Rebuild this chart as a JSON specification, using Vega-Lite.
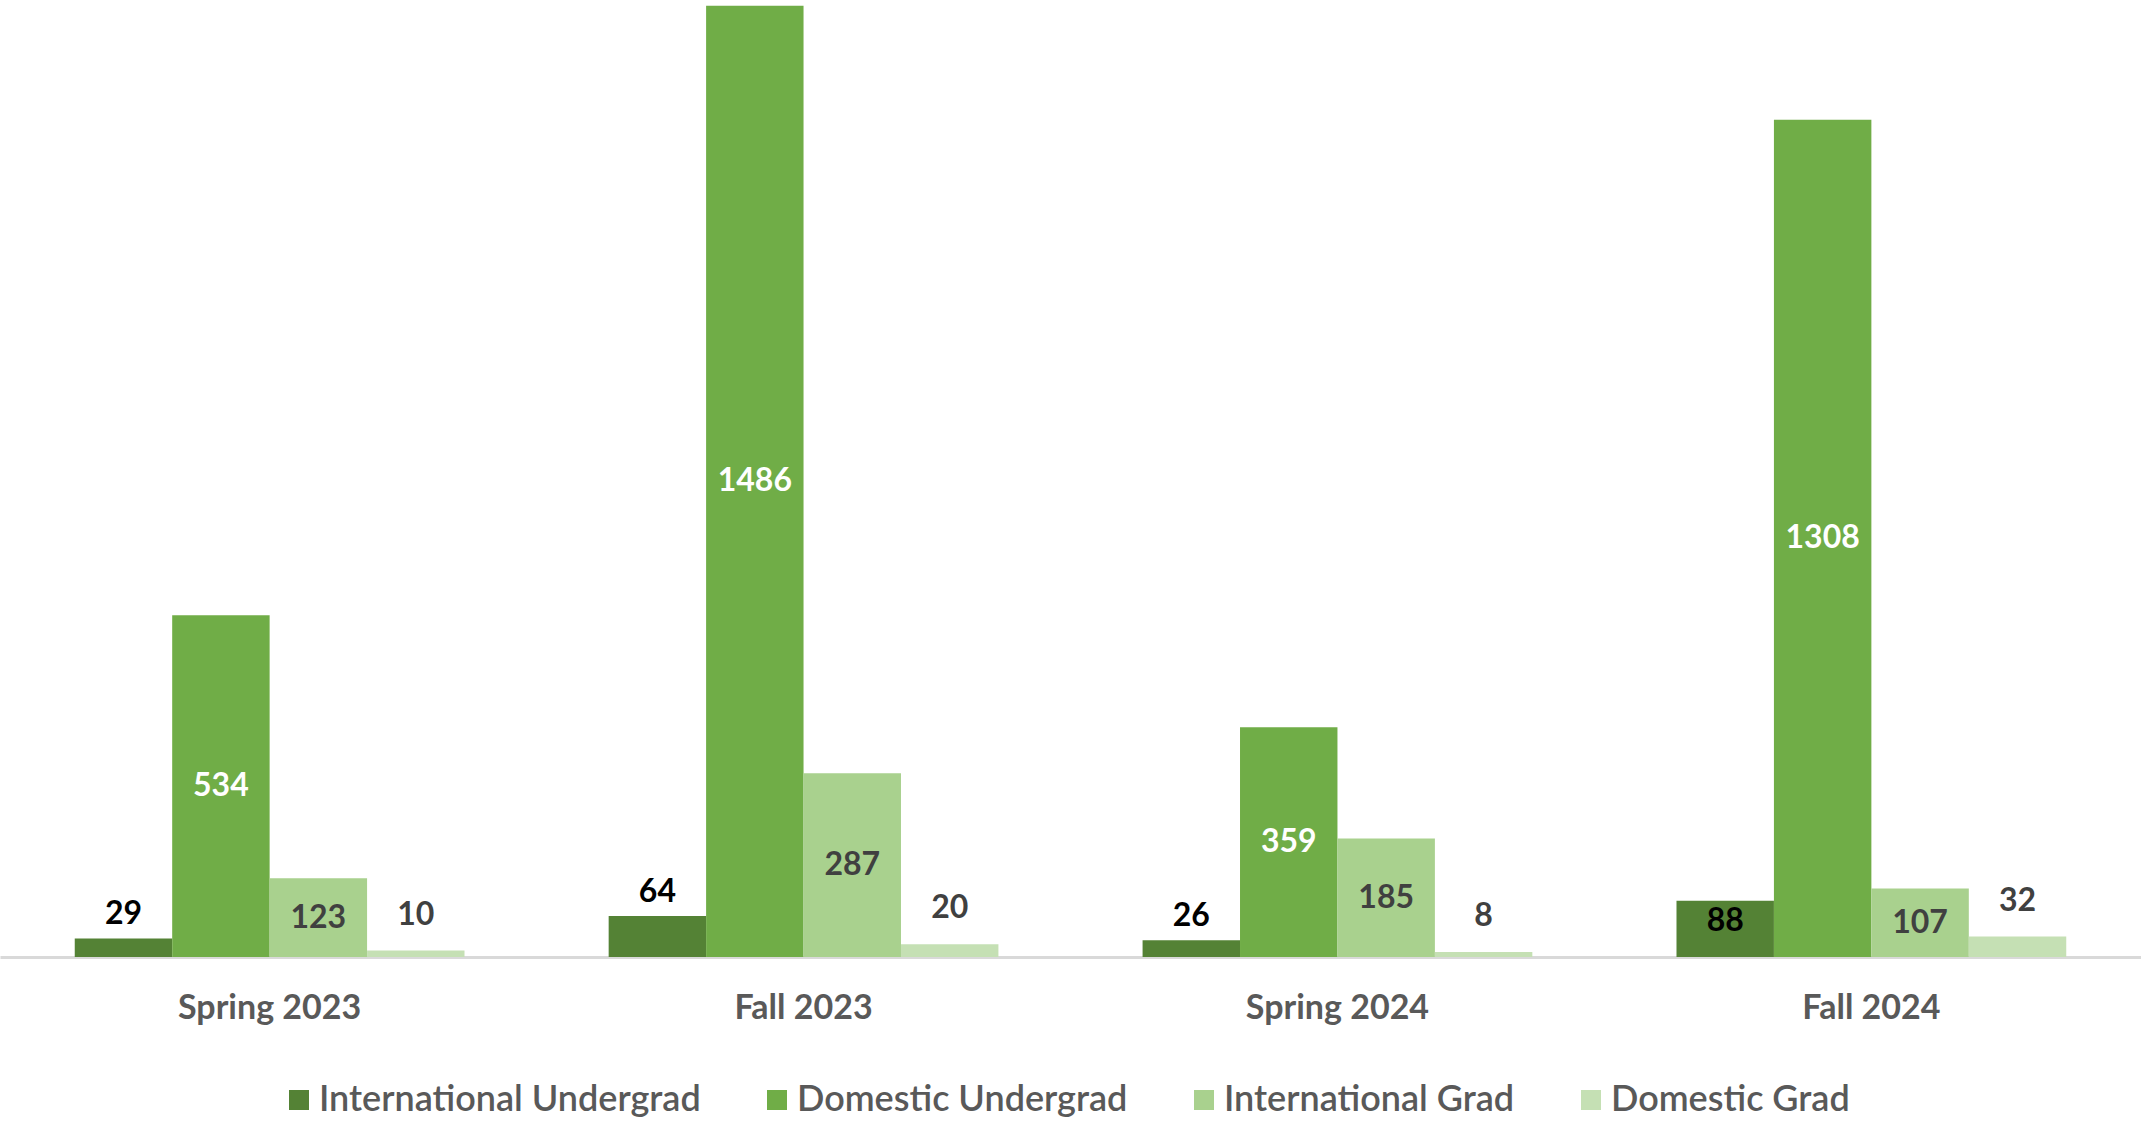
{
  "$schema": "https://vega.github.io/schema/vega-lite/v6.json",
  "width": 2141,
  "height": 957,
  "autosize": {"type": "none"},
  "padding": {"left": 0, "top": 0, "right": 0, "bottom": 164},
  "background": "white",
  "config": {"view": {"stroke": null}, "font": "Lato"},
  "data": {
    "values": [
      {"period": "Spring 2023", "series": "International Undergrad", "value": 29},
      {"period": "Spring 2023", "series": "Domestic Undergrad", "value": 534},
      {"period": "Spring 2023", "series": "International Grad", "value": 123},
      {"period": "Spring 2023", "series": "Domestic Grad", "value": 10},
      {"period": "Fall 2023", "series": "International Undergrad", "value": 64},
      {"period": "Fall 2023", "series": "Domestic Undergrad", "value": 1486},
      {"period": "Fall 2023", "series": "International Grad", "value": 287},
      {"period": "Fall 2023", "series": "Domestic Grad", "value": 20},
      {"period": "Spring 2024", "series": "International Undergrad", "value": 26},
      {"period": "Spring 2024", "series": "Domestic Undergrad", "value": 359},
      {"period": "Spring 2024", "series": "International Grad", "value": 185},
      {"period": "Spring 2024", "series": "Domestic Grad", "value": 8},
      {"period": "Fall 2024", "series": "International Undergrad", "value": 88},
      {"period": "Fall 2024", "series": "Domestic Undergrad", "value": 1308},
      {"period": "Fall 2024", "series": "International Grad", "value": 107},
      {"period": "Fall 2024", "series": "Domestic Grad", "value": 32}
    ]
  },
  "encoding": {
    "x": {
      "field": "period",
      "type": "nominal",
      "sort": ["Spring 2023", "Fall 2023", "Spring 2024", "Fall 2024"],
      "scale": {"paddingInner": 0.27, "paddingOuter": 0.14},
      "axis": {
        "title": null,
        "labelAngle": 0,
        "labelFont": "Lato",
        "labelFontSize": 34,
        "labelFontWeight": "bold",
        "labelColor": "#595959",
        "labelLimit": 500,
        "ticks": false,
        "domainColor": "#d9d9d9",
        "domainWidth": 3,
        "labelPadding": 34
      }
    },
    "xOffset": {
      "field": "series",
      "type": "nominal",
      "sort": ["International Undergrad", "Domestic Undergrad", "International Grad", "Domestic Grad"],
      "scale": {"paddingInner": 0, "paddingOuter": 0}
    },
    "y": {
      "field": "value",
      "type": "quantitative",
      "scale": {"domain": [0, 1495], "nice": false},
      "axis": null
    }
  },
  "layer": [
    {
      "mark": {"type": "bar"},
      "encoding": {
        "color": {
          "field": "series",
          "type": "nominal",
          "scale": {
            "domain": ["International Undergrad", "Domestic Undergrad", "International Grad", "Domestic Grad"],
            "range": ["#548235", "#70AD47", "#A9D18E", "#C5E0B4"]
          },
          "legend": {
            "title": null,
            "orient": "none",
            "legendX": 281,
            "legendY": 1082,
            "direction": "horizontal",
            "columns": 4,
            "padding": 0,
            "symbolType": "square",
            "symbolSize": 400,
            "symbolStrokeWidth": 0,
            "labelFont": "Lato",
            "labelFontSize": 36,
            "labelFontWeight": 600,
            "labelColor": "#595959",
            "labelOffset": 2,
            "columnPadding": 58,
            "labelLimit": 600
          }
        }
      }
    },
    {
      "transform": [{"filter": "datum.series === 'International Undergrad' && datum.value < 80"}],
      "mark": {"type": "text", "dy": -24, "baseline": "middle", "font": "Lato", "fontSize": 32, "fontWeight": "bold", "color": "#000000"},
      "encoding": {"text": {"field": "value", "type": "quantitative"}}
    },
    {
      "transform": [{"filter": "datum.series === 'International Undergrad' && datum.value >= 80"}],
      "mark": {"type": "text", "dy": 20, "baseline": "middle", "font": "Lato", "fontSize": 32, "fontWeight": "bold", "color": "#000000"},
      "encoding": {"text": {"field": "value", "type": "quantitative"}}
    },
    {
      "transform": [{"filter": "datum.series === 'Domestic Undergrad'"}],
      "mark": {"type": "text", "dy": {"expr": "datum.value * 957 / 1495 / 2"}, "baseline": "middle", "font": "Lato", "fontSize": 32, "fontWeight": "bold", "color": "#ffffff"},
      "encoding": {"text": {"field": "value", "type": "quantitative"}}
    },
    {
      "transform": [{"filter": "datum.series === 'International Grad'"}],
      "mark": {"type": "text", "dy": {"expr": "datum.value * 957 / 1495 / 2"}, "baseline": "middle", "font": "Lato", "fontSize": 32, "fontWeight": "bold", "color": "#404040"},
      "encoding": {"text": {"field": "value", "type": "quantitative"}}
    },
    {
      "transform": [{"filter": "datum.series === 'Domestic Grad'"}],
      "mark": {"type": "text", "dy": -36, "baseline": "middle", "font": "Lato", "fontSize": 32, "fontWeight": "bold", "color": "#404040"},
      "encoding": {"text": {"field": "value", "type": "quantitative"}}
    }
  ]
}
